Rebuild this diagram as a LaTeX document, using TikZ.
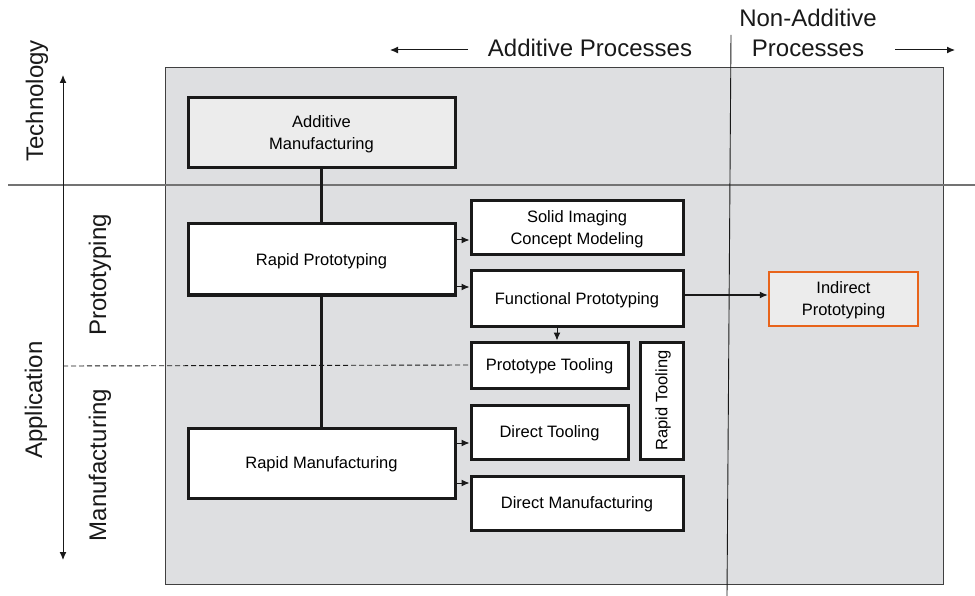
\documentclass[tikz,border=0pt]{standalone}
\usepackage{fontspec}
\setmainfont{Liberation Sans}
\usetikzlibrary{arrows.meta}
\definecolor{panelgray}{RGB}{222,223,225}
\definecolor{boxgray}{RGB}{236,236,236}
\definecolor{accent}{RGB}{232,100,27}
\begin{document}
\begin{tikzpicture}[x=1pt,y=-1pt,
  box/.style={draw=black!90, line width=3pt, fill=white, align=center,
    inner sep=0pt, text depth=0pt, font=\fontsize{16.5}{22}\selectfont},
  tip/.tip={Latex[length=8pt,width=7pt]},
  link/.style={draw=black!90, line width=1pt, -tip},
  trunk/.style={draw=black!90, line width=3pt},
  biglabel/.style={font=\fontsize{24}{30}\selectfont, text=black!90, align=center, inner sep=0pt},
  sidelabel/.style={biglabel, rotate=90}]
\useasboundingbox (0,0) rectangle (975,596);

% background panel and dividing lines
\draw[draw=black!75, line width=0.8pt, fill=panelgray] (165,67) rectangle (943,584);
\draw[draw=black!55, line width=1.3pt] (8,185) -- (975,185);
\draw[draw=black!90, line width=0.9pt] (731,35) -- (727,596);

% column headings
\node[biglabel] (addproc) at (590,48) {Additive Processes};
\node[biglabel] (nonadd) at (808,33) {Non-Additive\\Processes};
\coordinate (la0) at (468,50); \coordinate (la1) at (390,50);
\coordinate (ra0) at (895,50); \coordinate (ra1) at (955,50);
\draw[link] (la0) -- (la1);
\draw[link] (ra0) -- (ra1);

% vertical axis and row labels
\coordinate (axtop) at (63,75);
\coordinate (axbot) at (63,560);
\coordinate (axmid) at (63,366);
\draw[draw=black!90, line width=1pt, tip-tip] (axbot) -- (axtop);
\node[sidelabel] (tech) at (37,101) {Technology};
\node[sidelabel] (appl) at (36,400) {Application};
\node[sidelabel] (proto) at (100,275) {Prototyping};
\node[sidelabel] (manu) at (100,465) {Manufacturing};

% process boxes
\node[box, fill=boxgray, minimum width=267, minimum height=70] (am) at (321.5,133) {Additive\\Manufacturing};
\node[box, minimum width=267, minimum height=71] (rp) at (321.5,259.5) {Rapid Prototyping};
\node[box, minimum width=267, minimum height=70] (rm) at (321.5,463) {Rapid Manufacturing};
\node[box, minimum width=212, minimum height=54] (sicm) at (577,228) {Solid Imaging\\Concept Modeling};
\node[box, minimum width=212, minimum height=55] (fp) at (577,298.5) {Functional Prototyping};
\node[box, minimum width=157, minimum height=46] (pt) at (549.5,365) {Prototype Tooling};
\node[box, rotate=90, minimum width=117, minimum height=43] (rt) at (661.5,400.5) {Rapid Tooling};
\node[box, minimum width=157, minimum height=54] (dt) at (549.5,432) {Direct Tooling};
\node[box, minimum width=212, minimum height=54] (dm) at (577,503) {Direct Manufacturing};
\node[box, draw=accent, line width=2.5pt, fill=boxgray, minimum width=149, minimum height=54] (ip) at (843.5,299) {Indirect\\Prototyping};

% connectors
\draw[draw=black!90, line width=0.9pt, dash pattern=on 5pt off 3pt] (axmid) -- (pt.west);
\draw[trunk] (am.south) -- (rp.north);
\draw[trunk] (rp.south) -- (rm.north);
\coordinate (r1) at (0,240);
\coordinate (r2) at (0,287);
\coordinate (r3) at (0,443);
\coordinate (r4) at (0,483);
\coordinate (r5) at (0,295);
\coordinate (c1) at (557,0);
\draw[link] (rp.east |- r1) -- (sicm.west |- r1);
\draw[link] (rp.east |- r2) -- (fp.west |- r2);
\draw[link] (rm.east |- r3) -- (dt.west |- r3);
\draw[link] (rm.east |- r4) -- (dm.west |- r4);
\draw[link] (fp.south -| c1) -- (pt.north -| c1);
\draw[link] (fp.east |- r5) -- (ip.west |- r5);
\end{tikzpicture}
\end{document}
